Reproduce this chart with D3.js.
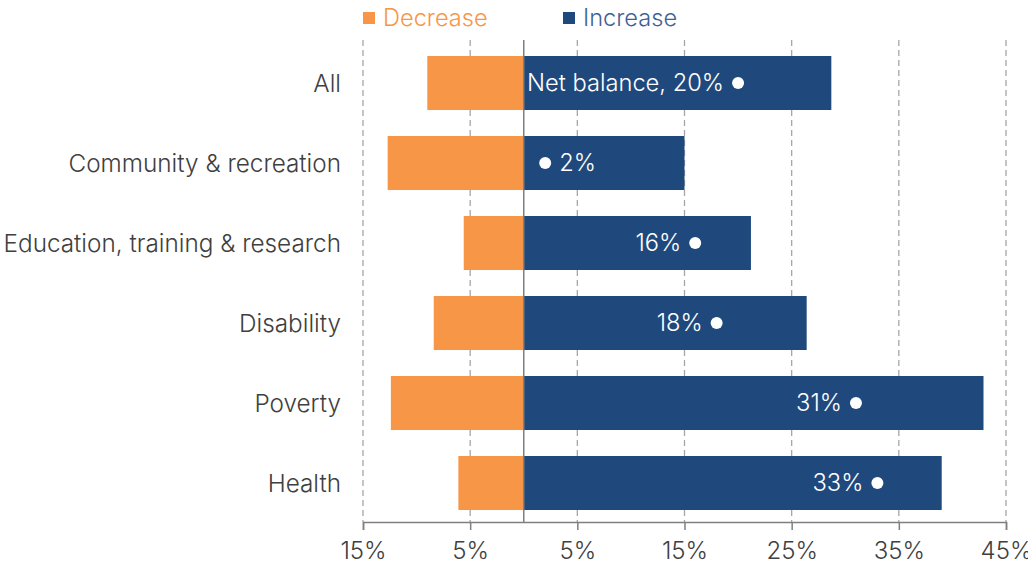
<!DOCTYPE html>
<html><head><meta charset="utf-8">
<script src="https://cdn.jsdelivr.net/npm/d3@7"></script>
<style>
body{margin:0;background:#fff;}
text{font-family:Inter,"Open Sans",sans-serif;font-weight:300;}
</style></head>
<body><svg id="c" width="1028" height="565"></svg>
<script>
const categories = ["All","Community & recreation","Education, training & research","Disability","Poverty","Health"];
const decrease = [9.0, 12.7, 5.6, 8.4, 12.4, 6.1];
const increase = [28.7, 15.0, 21.2, 26.4, 42.9, 39.0];
const netBalance = [20, 2, 16, 18, 31, 33];
const netLabels = ["Net balance, 20%","2%","16%","18%","31%","33%"];
const tickValues = [-15,-5,5,15,25,35,45];
const tickLabels = ["15%","5%","5%","15%","25%","35%","45%"];
const legendLabels = ["Decrease","Increase"];

const orange = "#F79646", blue = "#1F497D";
const svg = d3.select("#c");
const x = d3.scaleLinear().domain([-15,45]).range([363,1006]);
const y = d3.scaleBand().domain(categories).range([43,523]).paddingInner(0.325).paddingOuter(0.1625);
const axisY = 522, gridTop = 40;

// gridlines
svg.append("g").selectAll("line").data(tickValues).join("line")
  .attr("x1",d=>x(d)).attr("x2",d=>x(d)).attr("y1",gridTop).attr("y2",axisY)
  .attr("stroke","#a6a6a6").attr("stroke-width",1.3).attr("stroke-dasharray","6,4");

// bars
const rows = categories.map((c,i)=>({c,dec:decrease[i],inc:increase[i],net:netBalance[i],lab:netLabels[i]}));
svg.append("g").selectAll("rect").data(rows).join("rect")
  .attr("x",d=>x(-d.dec)).attr("width",d=>x(0)-x(-d.dec))
  .attr("y",d=>y(d.c)).attr("height",y.bandwidth()).attr("fill",orange);
svg.append("g").selectAll("rect").data(rows).join("rect")
  .attr("x",x(0)).attr("width",d=>x(d.inc)-x(0))
  .attr("y",d=>y(d.c)).attr("height",y.bandwidth()).attr("fill",blue);

// zero line
svg.append("line").attr("x1",x(0)).attr("x2",x(0)).attr("y1",gridTop).attr("y2",axisY)
  .attr("stroke","#7f7f7f").attr("stroke-width",1.5);

// axis
const axis = d3.axisBottom(x).tickValues(tickValues).tickFormat((d,i)=>tickLabels[i]).tickSize(8).tickPadding(7);
const ag = svg.append("g").attr("transform",`translate(0,${axisY})`).call(axis);
ag.select(".domain").attr("stroke","#7f7f7f").attr("stroke-width",1.5);
ag.selectAll(".tick line").attr("stroke","#7f7f7f").attr("stroke-width",1.5);
ag.selectAll(".tick text").attr("fill","#404040").style("font-size","24px")
  .style("font-family","Inter,'Open Sans',sans-serif").style("font-weight",300).attr("dy","0.9em");

// category labels
svg.append("g").selectAll("text").data(rows).join("text")
  .attr("x",341).attr("y",d=>y(d.c)+y.bandwidth()/2).attr("dy","0.35em")
  .attr("text-anchor","end").attr("fill","#404040").style("font-size","24.3px").text(d=>d.c);

// net balance dots and labels
const ng = svg.append("g");
ng.selectAll("circle").data(rows).join("circle")
  .attr("cx",d=>x(d.net)).attr("cy",d=>y(d.c)+y.bandwidth()/2).attr("r",6).attr("fill","#fff");
ng.selectAll("text").data(rows).join("text")
  .attr("x",d=> d.net < 5 ? x(d.net)+14 : x(d.net)-14)
  .attr("text-anchor",d=> d.net < 5 ? "start" : "end")
  .attr("y",d=>y(d.c)+y.bandwidth()/2).attr("dy","0.35em")
  .attr("fill","#fff").style("font-size","23.7px").text(d=>d.lab);

// legend
const lg = svg.append("g");
const lx = [363, 563], lc = [orange, blue];
legendLabels.forEach((l,i)=>{
  lg.append("rect").attr("x",lx[i]).attr("y",12).attr("width",12).attr("height",12).attr("fill",lc[i]);
  lg.append("text").attr("x",lx[i]+20).attr("y",18).attr("dy","0.35em")
    .attr("fill", i===0 ? orange : "#3f6293").style("font-size","23.6px").text(l);
});
</script></body></html>
